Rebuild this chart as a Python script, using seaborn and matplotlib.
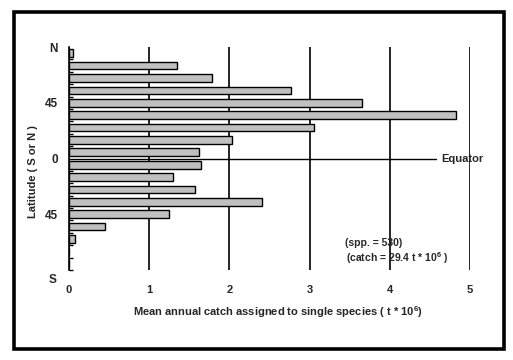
import matplotlib
matplotlib.use("Agg")
import matplotlib.pyplot as plt
import seaborn as sns
import pandas as pd
from matplotlib.patches import Rectangle

# latitude bands, north to south (10 degree bins)
lat_bands = ["80-90N", "70-80N", "60-70N", "50-60N", "40-50N", "30-40N", "20-30N", "10-20N", "0-10N",
             "0-10S", "10-20S", "20-30S", "30-40S", "40-50S", "50-60S", "60-70S", "70-80S", "80-90S"]
catch = [0.05, 1.35, 1.78, 2.77, 3.65, 4.82, 3.05, 2.03, 1.62,
         1.64, 1.30, 1.57, 2.41, 1.25, 0.45, 0.07, 0.0, 0.0]

lat_tick_pos = [-0.5, 4, 8.5, 13]
lat_tick_lab = ["N", "45", "0", "45"]

df = pd.DataFrame({"band": lat_bands, "catch": catch})

sns.set_style("white")
plt.rcParams['font.family'] = ['Liberation Sans Narrow', 'Liberation Sans', 'DejaVu Sans']
plt.rcParams['font.weight'] = 'bold'
plt.rcParams['mathtext.fontset'] = 'custom'
plt.rcParams['mathtext.rm'] = 'Liberation Sans:bold'
plt.rcParams['mathtext.it'] = 'Liberation Sans:bold'
plt.rcParams['mathtext.bf'] = 'Liberation Sans:bold'

fig = plt.figure(figsize=(5.13, 3.6), dpi=100)
ax = fig.add_axes([69/513, 1-270/360, 401/513, 223/360])

sns.barplot(data=df, x="catch", y="band", orient="h", color="#c0c0c0",
            edgecolor="black", linewidth=1.0, width=0.62, saturation=1, ax=ax, zorder=3)

ax.set_xlim(0, 5)
ax.set_ylim(17.5, -0.5)
ax.set_xlabel("")
ax.set_ylabel("")

for s in ["top", "right", "bottom"]:
    ax.spines[s].set_visible(False)
ax.spines["left"].set_color("black")
ax.spines["left"].set_linewidth(1.2)

# vertical grid lines
ax.set_xticks(range(6))
ax.grid(axis="x", color="black", linewidth=1.2)
ax.grid(axis="y", visible=False)
ax.tick_params(axis="x", length=0, pad=11, labelsize=8)

ax.set_yticks(lat_tick_pos)
ax.set_yticklabels(lat_tick_lab)
ax.set_yticks([i - 0.5 for i in range(19)], minor=True)
ax.tick_params(axis="y", which="major", length=0, pad=8, labelsize=8.5)
ax.tick_params(axis="y", which="minor", direction="in", length=3, width=1, color="black", left=True)
for t in ax.get_xticklabels() + ax.get_yticklabels():
    t.set_fontweight("bold")

# equator
ax.plot([0, 4.58], [8.5, 8.5], color="black", linewidth=1.0, zorder=4)
ax.text(4.64, 8.5, "Equator", ha="left", va="center", fontsize=8, fontweight="bold", clip_on=False)
ax.text(-0.15, 18.3, "S", ha="right", va="center", fontsize=8.5, fontweight="bold", clip_on=False)

ax.text(3.44, 15.3, "(spp. = 530)", ha="left", va="center", fontsize=7.5, fontweight="bold")
ax.text(3.45, 16.5, "(catch = 29.4 t * 10$^{6}$ )", ha="left", va="center", fontsize=7.5, fontweight="bold")

fig.text(278/513, 1-312/360, "Mean annual catch assigned to single species ( t * 10$^{6}$)",
         ha="center", va="center", fontsize=8, fontweight="bold")
fig.text(33/513, 1-172/360, "Latitude ( S or N )", ha="center", va="center", rotation=90,
         fontsize=8, fontweight="bold")

# outer frame
fig.patches.append(Rectangle((13.5/513, 1-348.5/360), 490/513, 337/360, transform=fig.transFigure,
                             fill=False, edgecolor="black", linewidth=2.6))

fig.savefig("out.png", dpi=100)
